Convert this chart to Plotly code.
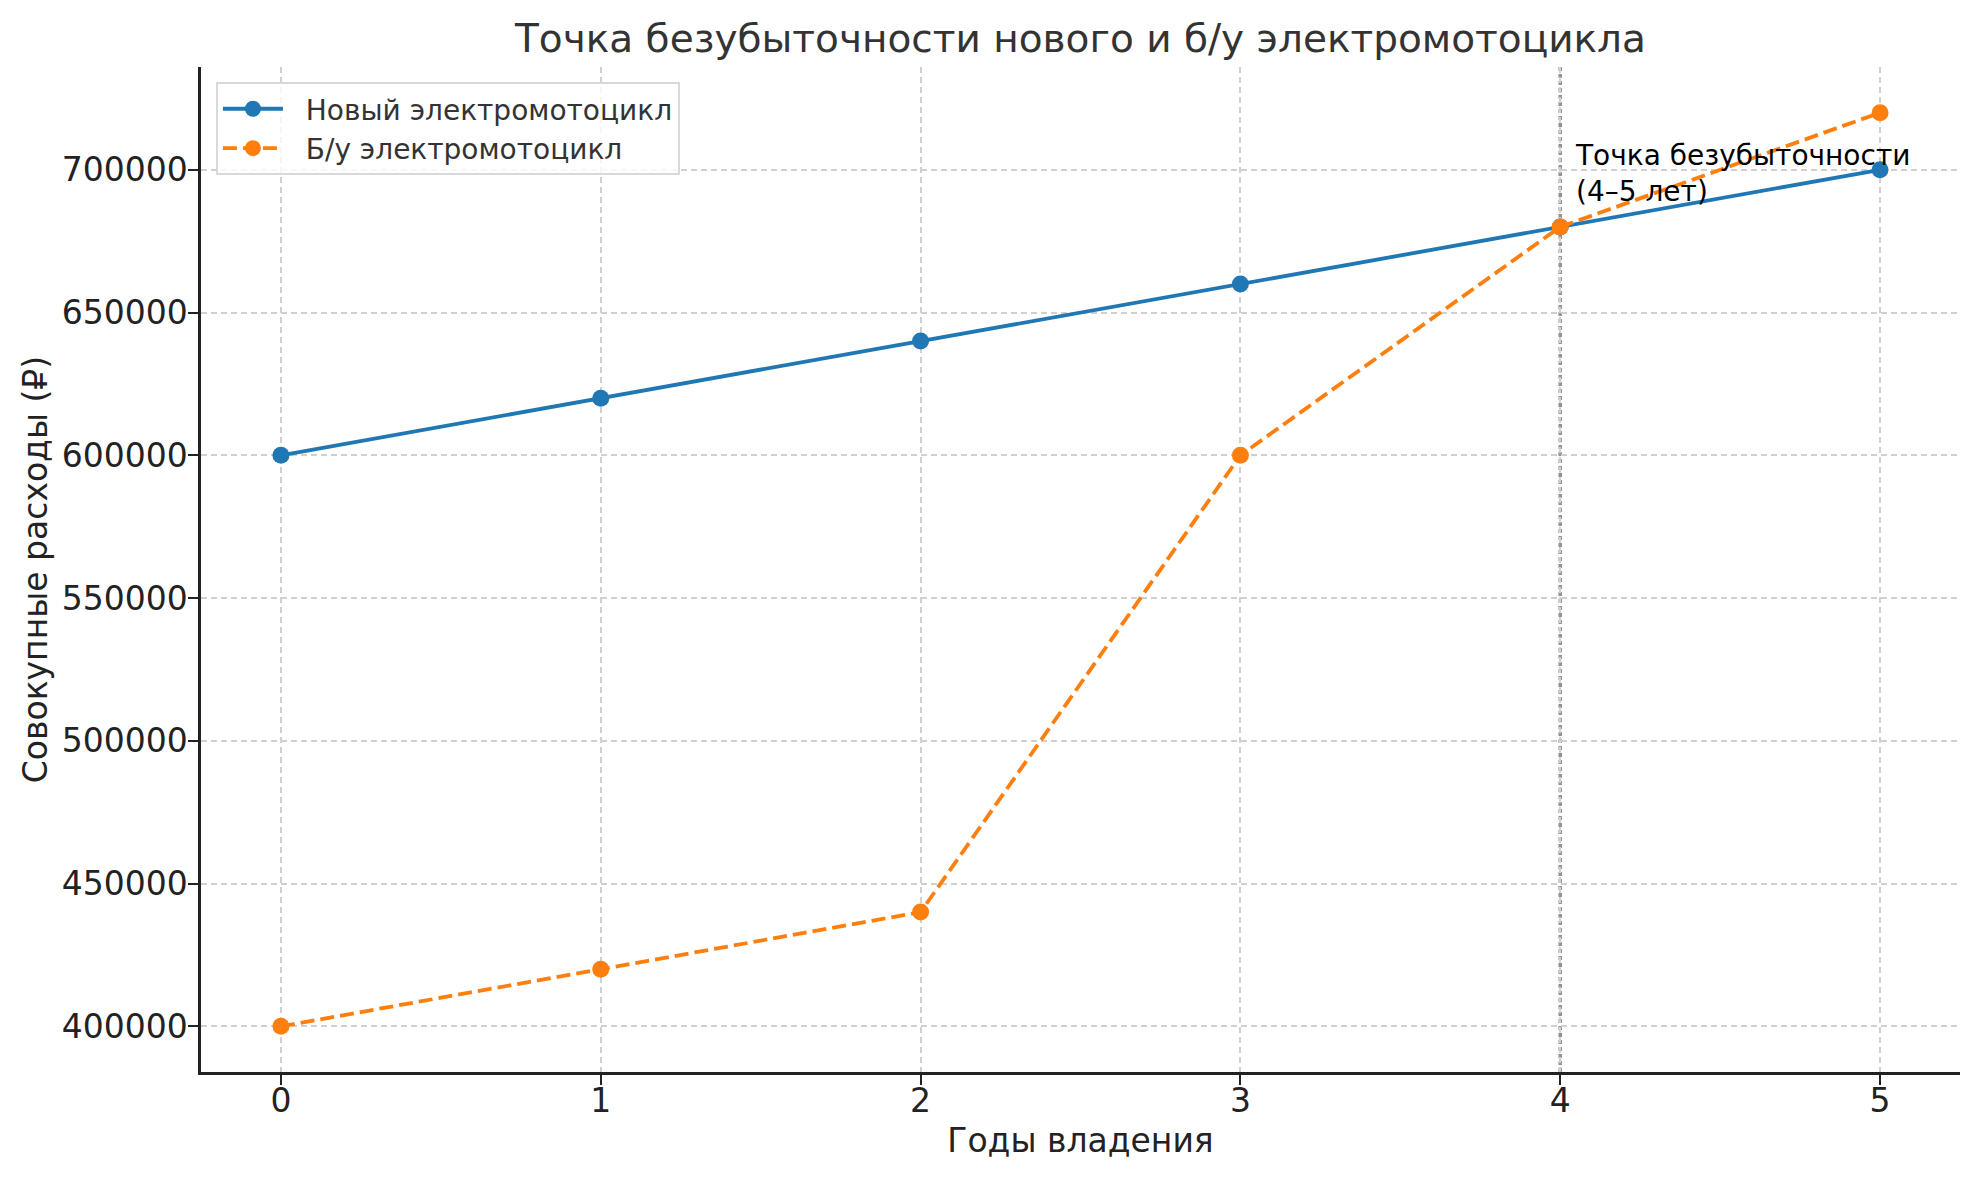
import plotly.graph_objects as go

# данные
years = [0, 1, 2, 3, 4, 5]
new_costs = [600000, 620000, 640000, 660000, 680000, 700000]
used_costs = [400000, 420000, 440000, 600000, 680000, 720000]
break_even_year = 4
y_ticks = [400000, 450000, 500000, 550000, 600000, 650000, 700000]

font = "DejaVu Sans"
W, H = 1980, 1180
# страница рисуется со смещением 8px (отступ body), поэтому поля уменьшены
L, R, T, B = 193, 28, 59, 116
pad = "\u00a0\u00a0"  # отступ текста легенды от значка

fig = go.Figure()

fig.add_trace(go.Scatter(
    x=years, y=new_costs, mode="lines+markers",
    name=pad + "Новый электромотоцикл",
    line=dict(color="#1f77b4", width=3.8),
    marker=dict(size=17, color="#1f77b4"),
))
fig.add_trace(go.Scatter(
    x=years, y=used_costs, mode="lines+markers",
    name=pad + "Б/у электромотоцикл",
    line=dict(color="#ff7f0e", width=3.8, dash="14px,6px"),
    marker=dict(size=17, color="#ff7f0e"),
))

# вертикальная линия точки безубыточности
fig.add_shape(
    type="line", x0=break_even_year, x1=break_even_year, y0=0, y1=1,
    xref="x", yref="paper",
    line=dict(color="rgba(128,128,128,0.85)", width=3.5, dash="4px,3px"),
    layer="below",
)

fig.add_annotation(
    x=break_even_year + 0.04, y=686000, xref="x", yref="y",
    text="Точка безубыточности<br>(4–5 лет)",
    showarrow=False, xanchor="left", yanchor="bottom", align="left",
    font=dict(family=font, size=28, color="black"),
)

fig.update_layout(
    width=W, height=H,
    paper_bgcolor="white", plot_bgcolor="white",
    margin=dict(l=L, r=R, t=T, b=B),
    title=dict(
        text="Точка безубыточности нового и б/у электромотоцикла",
        x=(L + W - R) / 2 / W, xanchor="center",
        y=1 - 30 / H, yanchor="middle",
        font=dict(family=font, size=39, color="#333333"),
    ),
    font=dict(family=font, color="#222222"),
    legend=dict(
        x=0.0085, y=0.985, xanchor="left", yanchor="top",
        bgcolor="rgba(255,255,255,0.8)",
        bordercolor="#d9d9d9", borderwidth=2,
        font=dict(family=font, size=28, color="#333333"),
        itemwidth=60,
    ),
    showlegend=True,
)

grid = dict(showgrid=True, gridcolor="#d0d0d0", griddash="6px,4px", gridwidth=2)

fig.update_xaxes(
    range=[-0.25, 5.25],
    tickmode="array", tickvals=years,
    ticks="outside", ticklen=10, tickwidth=2, tickcolor="#222222",
    ticklabelstandoff=-12,
    showline=True, linecolor="#222222", linewidth=2.5,
    zeroline=False,
    tickfont=dict(family=font, size=33, color="#222222"),
    title=dict(text="Годы владения", font=dict(family=font, size=33, color="#222222"), standoff=10),
    **grid,
)
fig.update_yaxes(
    range=[384000, 736000],
    tickmode="array", tickvals=y_ticks, ticktext=[str(v) for v in y_ticks],
    ticks="outside", ticklen=10, tickwidth=2, tickcolor="#222222",
    ticklabelstandoff=-6,
    showline=True, linecolor="#222222", linewidth=2.5,
    zeroline=False,
    tickfont=dict(family=font, size=33, color="#222222"),
    title=dict(text="Совокупные расходы (₽)", font=dict(family=font, size=33, color="#222222"), standoff=5),
    **grid,
)

fig.write_html("out.html")
